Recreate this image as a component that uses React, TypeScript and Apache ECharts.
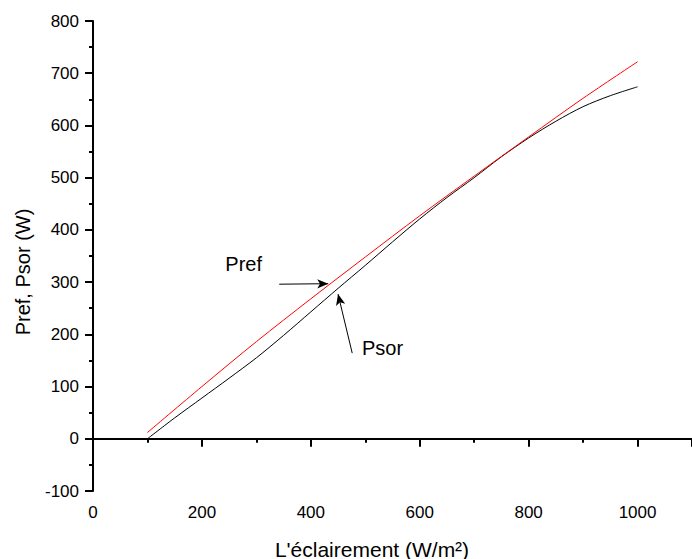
import React, { useEffect, useRef } from "react";
import * as echarts from "echarts";

const prefX = [100, 200, 300, 400, 500, 600, 700, 800, 900, 1000];
const prefY = [12, 100, 186, 268, 348, 427, 503, 578, 652, 722];

const psorX = [100, 150, 200, 250, 300, 350, 400, 450, 500, 550, 600, 650, 700, 750, 800, 850, 900, 950, 1000];
const psorY = [0, 40, 78, 116, 155, 198, 243, 288, 332, 377, 421, 462, 500, 540, 576, 608, 636, 657, 674];

const prefArrow = [[342, 296], [432, 297]];
const psorArrow = [[476, 164], [450, 277]];
const prefLabelPos = [243, 335];
const psorLabelPos = [494, 174];

const xTitle = "L'éclairement (W/m²)";
const yTitle = "Pref, Psor (W)";

const FONT = "'Liberation Sans', Arial, Helvetica, sans-serif";

export default function App() {
  const ref = useRef<HTMLDivElement>(null);
  useEffect(() => {
    if (!ref.current) return;
    const chart = echarts.init(ref.current, null, { renderer: "svg" });
    const axisLine = { show: true, lineStyle: { color: "#000", width: 2 } };
    const axisTick = { show: true, length: 8, lineStyle: { color: "#000", width: 2 } };
    const minorTick = { show: true, splitNumber: 2, length: 4, lineStyle: { color: "#000", width: 2 } };
    chart.setOption({
      animation: false,
      backgroundColor: "#fff",
      textStyle: { fontFamily: FONT },
      grid: { left: 93, top: 21, width: 601, height: 470, containLabel: false },
      xAxis: {
        type: "value",
        min: 0,
        max: 1100,
        interval: 200,
        axisLine,
        axisTick,
        minorTick,
        splitLine: { show: false },
        axisLabel: {
          color: "#000",
          fontSize: 17,
          fontFamily: FONT,
          margin: 13,
          showMaxLabel: false,
          formatter: (v: number) => String(v),
        },
      },
      yAxis: {
        type: "value",
        min: -100,
        max: 800,
        interval: 100,
        axisLine,
        axisTick,
        minorTick,
        splitLine: { show: false },
        axisLabel: { color: "#000", fontSize: 17, fontFamily: FONT, margin: 14, formatter: (v: number) => String(v) },
      },
      graphic: [
        {
          type: "text",
          x: 372,
          y: 549,
          style: { text: xTitle, fill: "#000", font: `21px ${FONT}`, textAlign: "center", textVerticalAlign: "middle" },
        },
        {
          type: "text",
          x: 23,
          y: 272,
          rotation: Math.PI / 2,
          style: { text: yTitle, fill: "#000", font: `20px ${FONT}`, textAlign: "center", textVerticalAlign: "middle" },
        },
      ],
      series: [
        {
          type: "line",
          name: "Psor",
          data: psorX.map((x, i) => [x, psorY[i]]),
          smooth: 0.3,
          showSymbol: false,
          symbol: "none",
          lineStyle: { color: "#000", width: 1 },
          markLine: {
            silent: true,
            symbol: ["none", "arrow"],
            symbolSize: [7, 11],
            lineStyle: { color: "#000", width: 1, type: "solid" },
            label: { show: false },
            data: [
              [{ coord: prefArrow[0] }, { coord: prefArrow[1] }],
              [{ coord: psorArrow[0] }, { coord: psorArrow[1] }],
            ],
          },
          markPoint: {
            silent: true,
            symbol: "rect",
            symbolSize: 0,
            label: {
              show: true,
              position: "inside",
              align: "left",
              verticalAlign: "middle",
              color: "#000",
              fontSize: 20,
              fontFamily: FONT,
            },
            data: [
              { coord: prefLabelPos, value: "Pref", label: { formatter: "Pref" } },
              { coord: psorLabelPos, value: "Psor", label: { formatter: "Psor" } },
            ],
          },
        },
        {
          type: "line",
          name: "Pref",
          data: prefX.map((x, i) => [x, prefY[i]]),
          smooth: 0.3,
          showSymbol: false,
          symbol: "none",
          lineStyle: { color: "#ff0000", width: 1 },
        },
      ],
    });
    return () => chart.dispose();
  }, []);
  return <div ref={ref} style={{ width: 692, height: 559, position: "absolute", left: 0, top: 0 }} />;
}
